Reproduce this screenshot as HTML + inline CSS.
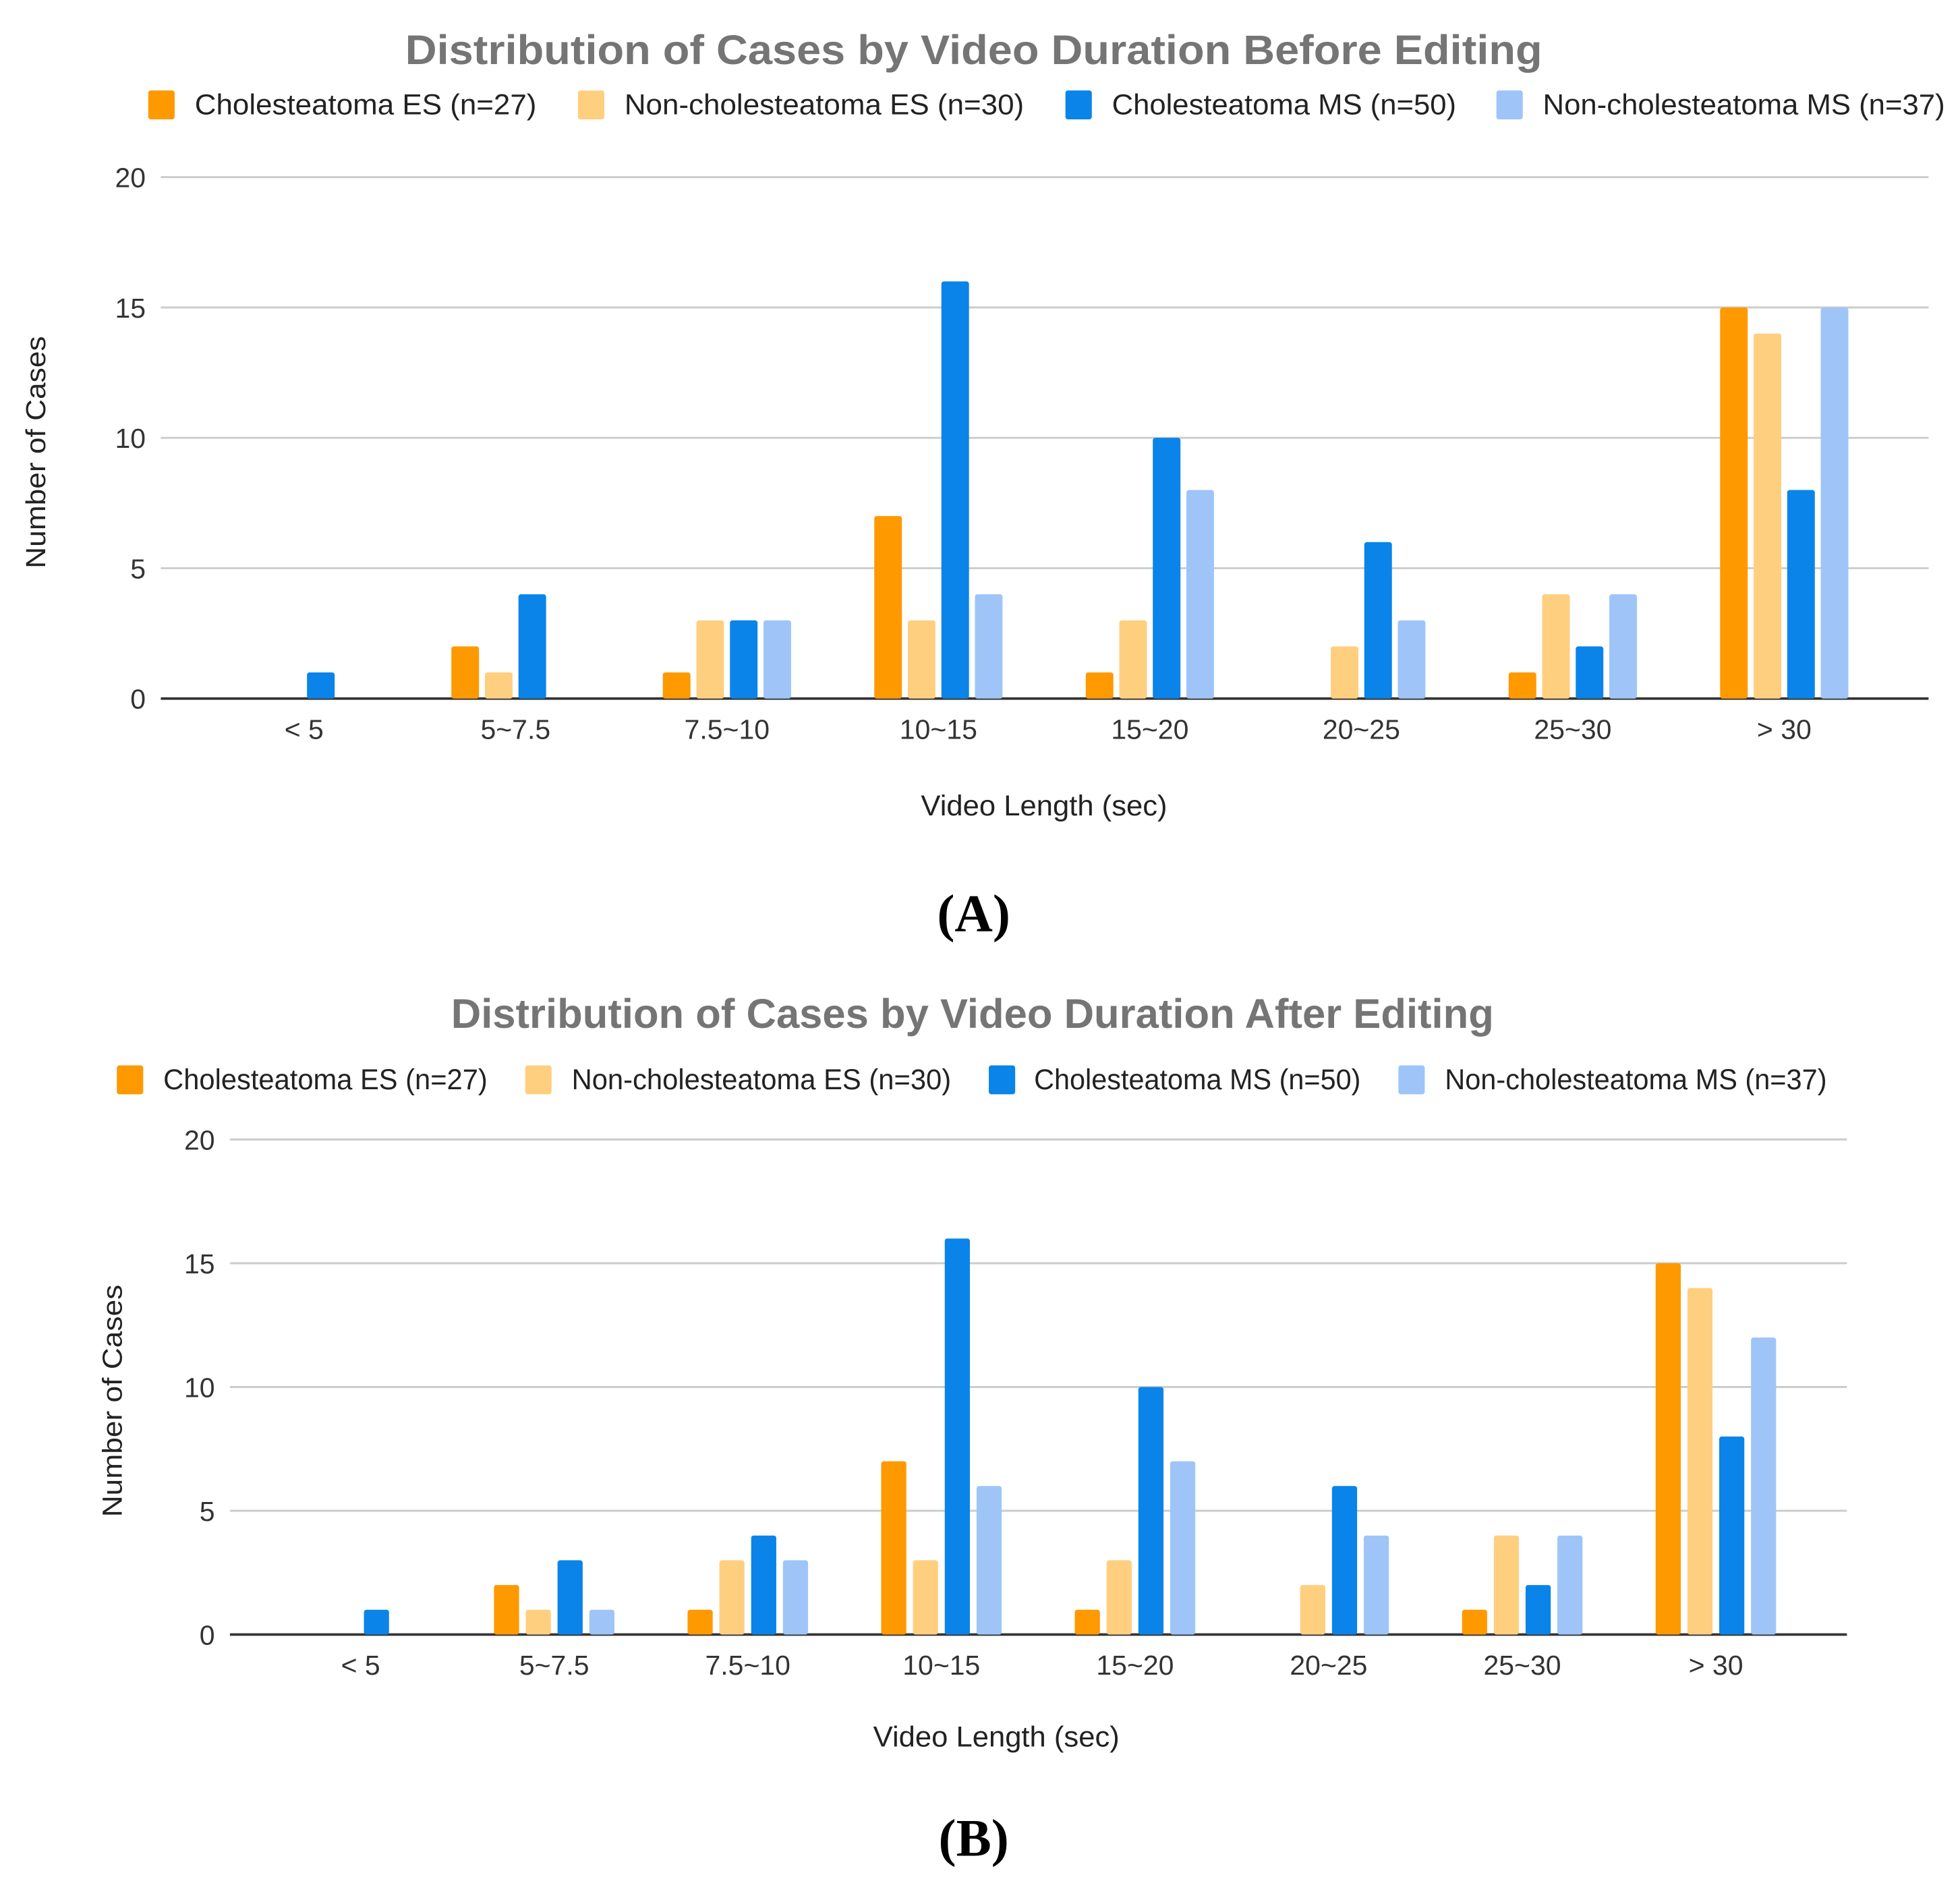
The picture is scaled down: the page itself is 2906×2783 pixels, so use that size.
<!DOCTYPE html>
<html><head><meta charset="utf-8">
<style>
html,body{margin:0;padding:0;background:#fff;}
svg{display:block;}
text{font-family:"Liberation Sans",Arial,sans-serif;}
</style></head>
<body>
<svg id="root" width="2906" height="2783" viewBox="0 0 1560 1494" preserveAspectRatio="none" xmlns="http://www.w3.org/2000/svg">
<rect width="1560" height="1494" fill="#fff"/>
</svg>
<script>
const categories = ["< 5","5~7.5","7.5~10","10~15","15~20","20~25","25~30","> 30"];
const seriesNames = ["Cholesteatoma ES (n=27)","Non-cholesteatoma ES (n=30)","Cholesteatoma MS (n=50)","Non-cholesteatoma MS (n=37)"];
const beforeES  = [0,2,1,7,1,0,1,15];
const beforeNES = [0,1,3,3,3,2,4,14];
const beforeMS  = [1,4,3,16,10,6,2,8];
const beforeNMS = [0,0,3,4,8,3,4,15];
const afterES   = [0,2,1,7,1,0,1,15];
const afterNES  = [0,1,3,3,3,2,4,14];
const afterMS   = [1,3,4,16,10,6,2,8];
const afterNMS  = [0,1,3,6,7,4,4,12];
const yTicks = [0,5,10,15,20];
const colors = ["#ff9900","#ffcf80","#0a84e8","#9fc5f8"];

const NS="http://www.w3.org/2000/svg";
const root=document.getElementById('root');
function mk(tag,attrs,parent,txt){const e=document.createElementNS(NS,tag);for(const k in attrs)e.setAttribute(k,attrs[k]);if(txt!==undefined)e.textContent=txt;(parent||root).appendChild(e);return e;}

function chart(cfg){
  const g=mk('g',{});
  
  
  const y=v=>cfg.y0-(v/20)*(cfg.y0-cfg.y20);
  const xc=i=>cfg.c0+i*cfg.step;
  const t=mk('text',{x:cfg.titleX,y:cfg.titleY,'text-anchor':'middle','font-size':33,'font-weight':'bold',fill:'#757575',textLength:cfg.titleW,lengthAdjust:'spacingAndGlyphs'},g,cfg.title);
  
  
  seriesNames.forEach((n,i)=>{
    const lg=mk('g',{},g);
    
    
    mk('rect',{x:cfg.legSq[i],y:cfg.legY-11,width:21,height:23,rx:2,fill:colors[i]},lg);
    mk('text',{x:cfg.legTx[i],y:cfg.legY+8,'font-size':23,fill:'#222',textLength:cfg.legW[i],lengthAdjust:'spacingAndGlyphs'},lg,n);
  });
  yTicks.forEach(v=>{
    const l=mk('line',{x1:cfg.gx0,x2:cfg.gx1,y1:y(v),y2:y(v),stroke:v===0?'#333':'#ccc','stroke-width':v===0?2:1.6},g);
    
    
    const tl=mk('text',{x:cfg.gx0-12,y:y(v)+8,'text-anchor':'end','font-size':22,fill:'#333'},g,String(v));
    
    
  });
  categories.forEach((c,i)=>{
    const tl=mk('text',{x:xc(i),y:cfg.y0+32,'text-anchor':'middle','font-size':22,fill:'#333'},g,c);
    
    
    cfg.data.forEach((arr,s)=>{
      const v=arr[i]; if(!v) return;
      const bx=xc(i)+(s-1.5)*cfg.bstep-cfg.bw/2;
      const r=mk('rect',{x:bx,y:y(v),width:cfg.bw,height:cfg.y0-y(v),rx:2,fill:colors[s]},g);
      
      
    });
  });
  const xt=mk('text',{x:cfg.xtX,y:cfg.xtY,'text-anchor':'middle','font-size':23,fill:'#222',textLength:196,lengthAdjust:'spacingAndGlyphs'},g,'Video Length (sec)');
  
  
  const yt=mk('text',{x:0,y:0,'text-anchor':'middle','font-size':22,fill:'#222',textLength:185,lengthAdjust:'spacingAndGlyphs',transform:`translate(${cfg.ytX},${cfg.ytY}) rotate(-90)`},g,'Number of Cases');
  
  
  const pl=mk('text',{x:775,y:cfg.panelY,'text-anchor':'middle','font-size':42,'font-weight':'bold',fill:'#000',style:'font-family:"Liberation Serif",serif'},g);
  
  
  pl.textContent=cfg.panel;
}
chart({id:'chart-before',title:'Distribution of Cases by Video Duration Before Editing',titleX:775,titleY:51,titleW:905,
  legY:83,legSq:[118,460,848,1191],legTx:[155,497,885,1228],legW:[272,318,274,320],
  y0:556,y20:141,gx0:128,gx1:1535,c0:242,step:168.3,bw:22,bstep:26.7,
  data:[beforeES,beforeNES,beforeMS,beforeNMS],xtX:831,xtY:649,ytX:36,ytY:360,panel:'(A)',panelY:741});
chart({id:'chart-after',title:'Distribution of Cases by Video Duration After Editing',titleX:774,titleY:818,titleW:830,
  legY:859,legSq:[93,418,787,1113],legTx:[130,455,823,1150],legW:[258,302,260,304],
  y0:1301,y20:907,gx0:183,gx1:1470,c0:287,step:154.1,bw:20,bstep:25.3,
  data:[afterES,afterNES,afterMS,afterNMS],xtX:793,xtY:1390,ytX:97,ytY:1115,panel:'(B)',panelY:1477});
</script>
</body></html>
